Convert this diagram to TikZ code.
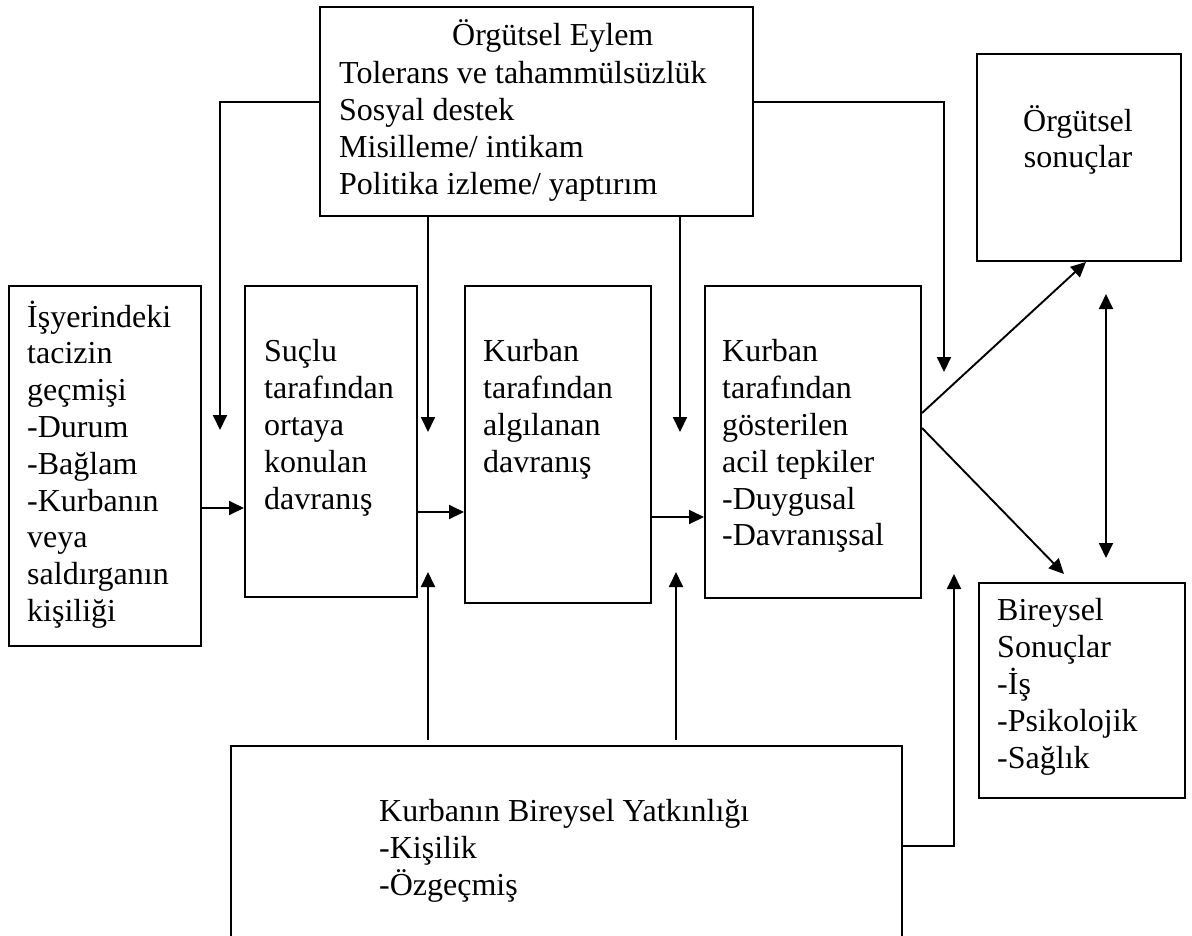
\documentclass[tikz,border=0pt]{standalone}
\usepackage{fontspec}
\setmainfont{Liberation Serif}
\usetikzlibrary{arrows.meta}
\begin{document}
\begin{tikzpicture}[x=1pt,y=-1pt,
  box/.style={draw,line width=2pt,rectangle,inner sep=0pt,anchor=north west},
  txt/.style={inner sep=0pt,anchor=north west,align=left,font=\fontsize{32}{36.8}\selectfont},
  arr/.style={line width=1.9pt,-{Triangle[length=15pt,width=14pt]}},
  darr/.style={line width=1.9pt,{Triangle[length=15pt,width=14pt]}-{Triangle[length=15pt,width=14pt]}},
  ln/.style={line width=1.9pt}]
\useasboundingbox (0,0) rectangle (1192,935);
\clip (0,0) rectangle (1192,935);
% boxes
\node[box,minimum width=433pt,minimum height=209pt] (top) at (319,6) {};
\node[box,minimum width=192pt,minimum height=360pt] (b1) at (8,285) {};
\node[box,minimum width=172pt,minimum height=311pt] (b2) at (244,285) {};
\node[box,minimum width=186pt,minimum height=317pt] (b3) at (464,285) {};
\node[box,minimum width=216pt,minimum height=312pt] (b4) at (704,285) {};
\node[box,minimum width=204pt,minimum height=207pt] (rs) at (976,53) {};
\node[box,minimum width=206pt,minimum height=215pt] (bs) at (978,582) {};
\node[box,minimum width=671pt,minimum height=230pt] (bot) at (230,745) {};
% texts
\node[txt,anchor=base west] (ttitle) at (452,45) {Örgütsel Eylem};
\node[txt] (tlist) at (339,58) {\strut Tolerans ve tahammülsüzlük\\Sosyal destek\\Misilleme/ intikam\\Politika izleme/ yaptırım};
\node[txt] (t1) at (27,300.5) {\strut İşyerindeki\\tacizin\\geçmişi\\-Durum\\-Bağlam\\-Kurbanın\\veya\\saldırganın\\kişiliği};
\node[txt] (t2) at (264,336) {\strut Suçlu\\tarafından\\ortaya\\konulan\\davranış};
\node[txt] (t3) at (483,336) {\strut Kurban\\tarafından\\algılanan\\davranış};
\node[txt] (t4) at (722,336) {\strut Kurban\\tarafından\\gösterilen\\acil tepkiler\\-Duygusal\\-Davranışsal};
\node[txt,anchor=north,align=center] (trs) at (1078,105) {\strut Örgütsel\\sonuçlar};
\node[txt] (tbs) at (997,595) {\strut Bireysel\\Sonuçlar\\-İş\\-Psikolojik\\-Sağlık};
\node[txt] (tbot) at (379,796) {\strut Kurbanın Bireysel Yatkınlığı\\-Kişilik\\-Özgeçmiş};
% free ends
\coordinate (c1) at (220,102);
\coordinate (e1) at (220,430);
\coordinate (e2) at (428,432);
\coordinate (e3) at (680,432);
\coordinate (c4) at (944,102);
\coordinate (e4) at (944,372);
\coordinate (u1) at (428,572);
\coordinate (u2) at (676,572);
\coordinate (c5) at (954,846);
\coordinate (u3) at (954,574);
\coordinate (d1) at (1106,294);
\coordinate (d2) at (1106,558);
\coordinate (g1) at (1064,574);
% connectors
\draw[arr] (top.west |- c1) -- (c1) -- (e1);
\draw[arr] (top.south -| e2) -- (e2);
\draw[arr] (top.south -| e3) -- (e3);
\draw[arr] (top.east |- c4) -- (c4) -- (e4);
\draw[arr] (b1.east |- 0,508) -- (b2.west |- 0,508);
\draw[arr] (b2.east |- 0,512) -- (b3.west |- 0,512);
\draw[arr] (b3.east |- 0,517) -- (b4.west |- 0,517);
\draw[arr] (b4.east |- 0,413) -- (rs.south -| 1086,0);
\draw[arr] (b4.east |- 0,428) -- (g1);
\draw[darr] (d1) -- (d2);
\draw[arr,shorten <=5pt] (bot.north -| u1) -- (u1);
\draw[arr,shorten <=5pt] (bot.north -| u2) -- (u2);
\draw[arr] (bot.east |- c5) -- (c5) -- (u3);
\end{tikzpicture}
\end{document}
